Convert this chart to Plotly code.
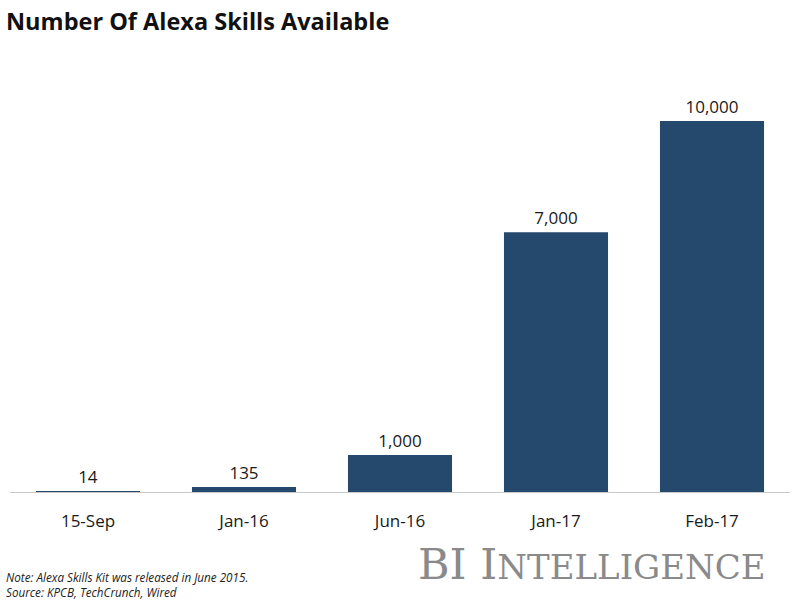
import plotly.graph_objects as go

categories = ["15-Sep", "Jan-16", "Jun-16", "Jan-17", "Feb-17"]
skills = [14, 135, 1000, 7000, 10000]
value_labels = ["14", "135", "1,000", "7,000", "10,000"]

title_text = "Number Of Alexa Skills Available"
note_text = "Note: Alexa Skills Kit was released in June 2015."
source_text = "Source: KPCB, TechCrunch, Wired"

BAR = "#24496d"
FONT = "Open Sans"

L, R, T, B = 10, 10, 80, 108
PW, PH = 800 - L - R, 600 - T - B


def px(x, y):
    return (x - L) / PW, (600 - B - y) / PH


fig = go.Figure()
fig.add_trace(go.Bar(
    x=categories, y=skills, text=value_labels, textposition="outside",
    textfont=dict(family=FONT, size=17, color="#1a1a1a"),
    marker=dict(color=BAR, line=dict(width=0)),
    cliponaxis=False, hoverinfo="skip",
))

anns = []
for txt, x, y, xa, font in [
    ("<b>" + title_text + "</b>", 4, 21, "left", dict(family=FONT, size=23.5, color="#111111")),
    ("<i>" + note_text + "</i>", 4, 577, "left", dict(family=FONT, size=11.7, color="#222222")),
    ("<i>" + source_text + "</i>", 4, 592, "left", dict(family=FONT, size=11.7, color="#222222")),
    ("BI I<span style='font-size:34px'>NTELLIGENCE</span>", 768, 564, "right",
     dict(family="DejaVu Serif", size=43, color="#8a8a8a")),
]:
    ax, ay = px(x, y)
    anns.append(dict(text=txt, x=ax, y=ay, xref="paper", yref="paper",
                     xanchor=xa, yanchor="middle", showarrow=False, font=font))

fig.update_layout(
    width=800, height=600,
    margin=dict(l=L, r=R, t=T, b=B),
    paper_bgcolor="white", plot_bgcolor="white",
    bargap=0.333,
    showlegend=False,
    hovermode=False,
    xaxis=dict(showgrid=False, showline=True, linecolor="#c8c8c8", linewidth=1,
               ticks="", tickfont=dict(family=FONT, size=17, color="#1a1a1a"),
               ticklabelstandoff=14, fixedrange=True),
    yaxis=dict(visible=False, range=[0, 10000 * PH / 371], fixedrange=True),
    annotations=anns,
)

fig.write_html("out.html", config={"displayModeBar": False},
               post_script="document.body.style.margin='0';document.body.style.overflow='hidden';")
